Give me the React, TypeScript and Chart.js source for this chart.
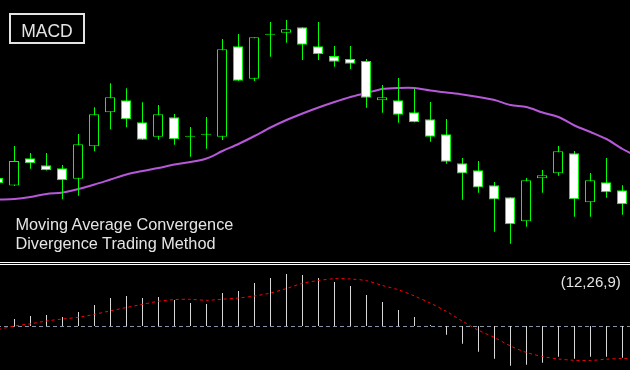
import React, { useEffect, useRef } from "react";
import { Chart, registerables } from "chart.js";

Chart.register(...registerables);

// ---- Price panel data (candles, 40 periods) ----
const opens = [84, 76.5, 103.7, 96.7, 93.7, 83.3, 115.7, 149.7, 161.7, 139.7, 125.3, 144.7, 125.2, 127.2, 125.3, 215.7, 183.3, 227.2, 229.3, 234.7, 215.7, 206, 203, 201, 161.7, 161.7, 149.7, 142.7, 127.7, 98.7, 91.7, 76.7, 64.7, 40.7, 83.7, 88.7, 108.7, 59.7, 79.7, 71.7];
const highs = [86, 116, 109, 109, 97, 128, 154.7, 178.7, 173.7, 159.7, 157, 148, 135, 145, 223, 228, 224.7, 240, 242, 234.7, 240, 216, 216, 203, 177, 184, 173.5, 160, 143, 104, 101, 80, 64.7, 84, 92, 116, 111, 89, 104, 76.7];
const lows = [77, 76, 93.3, 91.5, 62.7, 66.3, 110.7, 132.7, 134.7, 122, 122.3, 117.3, 105.3, 113.3, 122, 181, 181, 205.3, 219.3, 202, 202, 195.3, 193, 154.3, 149.3, 139.3, 139.7, 120.3, 98.3, 62.3, 69.3, 30.3, 18.3, 35.3, 69.3, 86.3, 45.3, 45.3, 64.3, 47.3];
const closes = [79, 101, 98.7, 91.7, 81.7, 117.7, 147.7, 164.7, 142.7, 122.3, 147.7, 122.7, 126.2, 128.2, 212.7, 181.3, 224.7, 228.2, 232.7, 217.3, 207.7, 200.3, 198.3, 164.3, 164.7, 147.3, 139.7, 125.3, 100.3, 88.5, 74.5, 62.5, 37.7, 81.7, 86.7, 110.7, 62.7, 81.7, 69.7, 57.7];
// moving average (one more value than candles, continues past the right edge)
const maValues = [62.5, 63, 65, 68, 69.5, 73, 77.5, 82.5, 87.5, 91, 94, 97.5, 100, 103.5, 111, 118, 126, 134.5, 142, 148.5, 154.5, 160, 165, 169, 173, 174, 174, 171.5, 169.5, 167.5, 165, 162, 157, 155, 149.5, 145, 136.5, 130, 123, 113, 105];

// ---- MACD panel data ----
const macdValues = [5, 7, 10, 11, 9, 14, 21, 28, 30, 28, 29, 26, 23, 22, 33, 35, 43, 48, 52, 51, 48, 44, 40, 31, 24, 16, 9, 1, -8.7, -17.7, -25.7, -32.7, -39.7, -38.7, -36.7, -30.7, -32.7, -30.7, -30.7, -31.7];
const signalValues = [-3.5, 0, 2.2, 5, 7, 8.7, 11.7, 15.2, 18.5, 21.7, 24.7, 26.4, 26.7, 25.7, 26.8, 28, 30, 33, 37.5, 42.7, 45.5, 47.3, 47, 45.3, 40.5, 36.2, 30, 22.8, 14.5, 4.8, -4.3, -11.5, -20, -26.5, -30.5, -33, -34.3, -34.5, -33.2, -32.5, -32];

// ---- Texts ----
const titleLabel = "MACD";
const captionLines = ["Moving Average Convergence", "Divergence Trading Method"];
const paramLabel = "(12,26,9)";

const GREEN = "#00ff00";
const TEXT = "#e4e4e4";
const FONT = '"Liberation Sans", Arial, sans-serif';

const baseOptions: any = {
  responsive: false,
  maintainAspectRatio: false,
  animation: false,
  devicePixelRatio: 1,
  events: [],
  layout: { padding: 0 },
  plugins: { legend: { display: false }, tooltip: { enabled: false }, title: { display: false } },
};

const xScales = {
  x: { type: "linear", display: false, offset: false, min: -0.53125, max: 39.46875 },
  xb: { type: "linear", display: false, offset: false, min: -0.5, max: 39.5 },
};

const zeroLinePlugin = {
  id: "zeroLine",
  beforeDatasetsDraw(chart: any) {
    const { ctx, chartArea, scales } = chart;
    const y = Math.round(scales.y.getPixelForValue(0)) + 0.5;
    ctx.save();
    ctx.strokeStyle = "#8492a8";
    ctx.lineWidth = 1;
    ctx.setLineDash([4, 3]);
    ctx.beginPath();
    ctx.moveTo(chartArea.left, y);
    ctx.lineTo(chartArea.right, y);
    ctx.stroke();
    ctx.restore();
  },
};

export default function App() {
  const priceRef = useRef<HTMLCanvasElement | null>(null);
  const macdRef = useRef<HTMLCanvasElement | null>(null);

  useEffect(() => {
    const priceChart = new Chart(priceRef.current as HTMLCanvasElement, {
      type: "bar",
      data: {
        datasets: [
          {
            type: "line",
            data: maValues.map((v, i) => ({ x: i, y: v })),
            borderColor: "#b658d8",
            borderWidth: 2,
            pointRadius: 0,
            tension: 0.3,
            xAxisID: "x",
            order: 3,
          } as any,
          {
            data: highs.map((h, i) => ({ x: i, y: [lows[i], h] })),
            backgroundColor: GREEN,
            borderWidth: 0,
            barThickness: 1,
            maxBarThickness: 1,
            grouped: false,
            inflateAmount: 0,
            xAxisID: "x",
            order: 2,
          },
          {
            data: opens.map((o, i) => ({ x: i, y: [Math.min(o, closes[i]), Math.max(o, closes[i])] })),
            backgroundColor: opens.map((o, i) => (closes[i] < o ? "#ffffff" : "#000000")),
            borderColor: GREEN,
            borderWidth: 1,
            borderSkipped: false,
            barThickness: 10,
            maxBarThickness: 10,
            grouped: false,
            inflateAmount: 0,
            xAxisID: "xb",
            order: 1,
          },
        ],
      },
      options: {
        ...baseOptions,
        scales: {
          ...xScales,
          y: { type: "linear", display: false, min: 0, max: 262 },
        },
      } as any,
    });

    const macdChart = new Chart(macdRef.current as HTMLCanvasElement, {
      type: "bar",
      data: {
        datasets: [
          {
            type: "line",
            data: signalValues.map((v, i) => ({ x: i, y: v })),
            borderColor: "#ff0000",
            borderWidth: 1,
            borderDash: [3, 3],
            pointRadius: 0,
            tension: 0.3,
            xAxisID: "x",
            order: 1,
          } as any,
          {
            data: macdValues.map((v, i) => ({ x: i, y: v })),
            backgroundColor: "#d8d8d8",
            borderWidth: 0,
            barThickness: 1,
            maxBarThickness: 1,
            grouped: false,
            inflateAmount: 0,
            xAxisID: "x",
            order: 2,
          },
        ],
      },
      options: {
        ...baseOptions,
        scales: {
          ...xScales,
          y: { type: "linear", display: false, min: -44, max: 61 },
        },
      } as any,
      plugins: [zeroLinePlugin],
    });

    return () => {
      priceChart.destroy();
      macdChart.destroy();
    };
  }, []);

  return (
    <div
      style={{
        position: "fixed",
        left: 0,
        top: 0,
        width: 630,
        height: 370,
        background: "#000",
        overflow: "hidden",
        fontFamily: FONT,
      }}
    >
      <canvas
        ref={priceRef}
        width={640}
        height={262}
        style={{ position: "absolute", left: -10, top: 0, width: 640, height: 262 }}
      />
      <div style={{ position: "absolute", left: 0, top: 262, width: 630, height: 1, background: "#ffffff" }} />
      <div style={{ position: "absolute", left: 0, top: 264, width: 630, height: 1, background: "#ffffff" }} />
      <canvas
        ref={macdRef}
        width={640}
        height={105}
        style={{ position: "absolute", left: -10, top: 265, width: 640, height: 105 }}
      />
      <div
        style={{
          position: "absolute",
          left: 9,
          top: 13,
          width: 76,
          height: 31,
          boxSizing: "border-box",
          border: "2px solid " + TEXT,
        }}
      />
      <div
        style={{
          position: "absolute",
          left: 9,
          top: 20.5,
          width: 76,
          textAlign: "center",
          fontSize: 17.5,
          lineHeight: "20px",
          color: TEXT,
          whiteSpace: "nowrap",
        }}
      >
        {titleLabel}
      </div>
      <div
        style={{
          position: "absolute",
          left: 15.5,
          top: 215,
          fontSize: 16.3,
          lineHeight: "19px",
          color: TEXT,
          whiteSpace: "nowrap",
        }}
      >
        {captionLines.map((t) => (
          <div key={t}>{t}</div>
        ))}
      </div>
      <div
        style={{
          position: "absolute",
          left: 560.7,
          top: 274,
          fontSize: 15,
          lineHeight: "15px",
          color: TEXT,
          whiteSpace: "nowrap",
        }}
      >
        {paramLabel}
      </div>
    </div>
  );
}
